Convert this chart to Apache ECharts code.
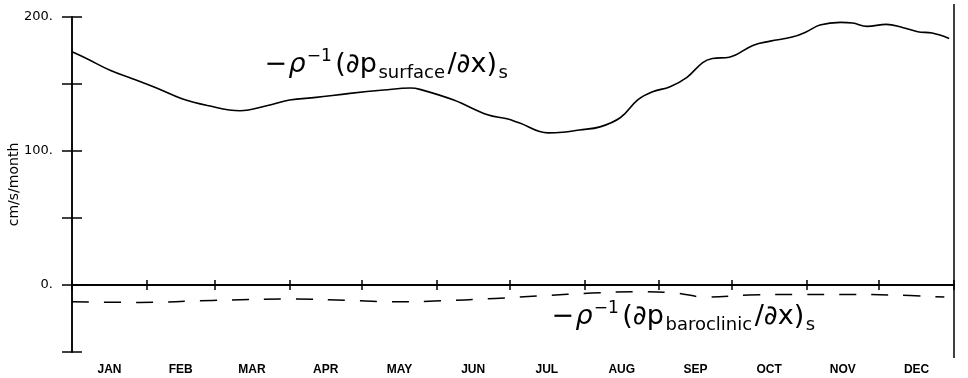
<!DOCTYPE html>
<html><head><meta charset="utf-8">
<script src="https://cdn.jsdelivr.net/npm/echarts@6/dist/echarts.min.js"></script>
<style>html,body{margin:0;padding:0;background:#fff}#c{width:968px;height:378px}</style>
</head><body><div id="c"></div>
<script>
const months = ['JAN','FEB','MAR','APR','MAY','JUN','JUL','AUG','SEP','OCT','NOV','DEC'];
const monthStartDays = [0,31,59,90,120,151,181,212,243,273,304,334,365];
const monthMidDays = [15.5,45,74.5,105,135.5,166,196.5,227.5,258,288.5,319,349.5];
const yLabelValues = [0,100,200];

const surfaceDays   = [0,6,16,25,35,45.5,56,69.5,81,90,101,115,129,140,144,158,172,180,185,197,203,210,218.5,227,234,240,247.5,254.5,261,265,272,282,289,298,304,309.5,318,323,329,337,344,350,356,363];
const surfaceValues = [174,169,160,154,147,139,134,130,134,138,140,143,145.5,147,146,138,127,124,121,113.5,114,115.7,118,125,138,144,148,155,166,169,170,179,182,185,189,194,196,195.5,193,194.5,192,189,188,184];

const baroDays   = [0,28,58,89,115,130,150,175,195,215,235,250,262,280,300,320,340,361];
const baroValues = [-12.5,-13,-11.5,-10.5,-11.5,-12.5,-12,-10,-8,-6,-5,-6,-9,-7.5,-7,-7,-7.5,-9];

const chart = echarts.init(document.getElementById('c'), null, {renderer:'canvas'});
const black = '#000';
const FF = 'DejaVu Sans';
const richStyles = {
  m:   {fontSize: 27, fontFamily: FF, lineHeight: 34, padding: [0, 1.5, 0, 1.5], fill: black},
  g:   {fontSize: 27, fontFamily: FF, fontStyle: 'italic', lineHeight: 34, fill: black},
  sup: {fontSize: 17, fontFamily: FF, lineHeight: 18, verticalAlign: 'top', padding: [0, 2, 0, 1], fill: black},
  sub: {fontSize: 18, fontFamily: FF, lineHeight: 20, verticalAlign: 'bottom', padding: [0, 1, 0, 0], fill: black}
};
const pair = (xs, ys) => xs.map((d, i) => [d, ys[i]]);

chart.setOption({
  animation: false,
  grid: {left: 72, right: 14, top: 17, bottom: 26, containLabel: false, outerBoundsMode: 'none'},
  xAxis: [{
    type: 'value', min: 0, max: 365, position: 'bottom',
    axisLine: {show: true, lineStyle: {color: black, width: 1.5}},
    axisTick: {show: true, inside: false, length: 5, customValues: monthStartDays, lineStyle: {color: black, width: 1.5}},
    axisLabel: {show: true, customValues: monthMidDays, margin: 12, color: black, fontSize: 12, fontWeight: 'bold', fontFamily: 'Liberation Sans',
      formatter: v => { let b = 0; monthMidDays.forEach((m, i) => { if (Math.abs(m - v) < Math.abs(monthMidDays[b] - v)) b = i; }); return months[b]; }},
    splitLine: {show: false}
  }, {
    type: 'value', min: 0, max: 365, position: 'top',
    axisLine: {show: true, lineStyle: {color: black, width: 1.5}},
    axisTick: {show: true, inside: false, length: 5, customValues: monthStartDays, lineStyle: {color: black, width: 1.5}},
    axisLabel: {show: false},
    splitLine: {show: false}
  }],
  yAxis: [{
    type: 'value', min: -50, max: 200, interval: 50, position: 'left',
    name: 'cm/s/month', nameLocation: 'middle', nameGap: 51, nameRotate: 90, nameMoveOverlap: false,
    nameTextStyle: {color: black, fontSize: 14, fontFamily: FF},
    axisLine: {show: true, lineStyle: {color: black, width: 1.5}},
    axisTick: {show: true, inside: false, length: 10, lineStyle: {color: black, width: 1.5}},
    axisLabel: {show: true, customValues: yLabelValues, margin: 19, color: black, fontSize: 13, fontFamily: FF, formatter: v => v + '.'},
    splitLine: {show: false}
  }, {
    type: 'value', min: -50, max: 200, interval: 50, position: 'right',
    axisLine: {show: true, lineStyle: {color: black, width: 1.5}},
    axisTick: {show: true, inside: false, length: 10, lineStyle: {color: black, width: 1.5}},
    axisLabel: {show: false},
    splitLine: {show: false}
  }],
  series: [{
    type: 'line', xAxisIndex: 0, yAxisIndex: 0, data: pair(surfaceDays, surfaceValues),
    smooth: 0.4, showSymbol: false, symbol: 'none',
    lineStyle: {color: black, width: 1.6},
    markLine: {silent: true, symbol: ['none','none'], label: {show: false},
      lineStyle: {color: black, width: 1.5, type: 'solid'}, data: [{yAxis: 0}]}
  }, {
    type: 'line', xAxisIndex: 0, yAxisIndex: 0, data: pair(baroDays, baroValues),
    smooth: 0.4, showSymbol: false, symbol: 'none',
    lineStyle: {color: black, width: 1.5, type: [17, 15]}
  }],
  graphic: [{
    type: 'text', left: 263, top: 48,
    style: {text: '{m|−}{g|ρ}{sup|−1}{m|(∂p}{sub|surface}{m|/∂x)}{sub|s}', rich: richStyles, fill: black}
  }, {
    type: 'text', left: 550, top: 300,
    style: {text: '{m|−}{g|ρ}{sup|−1}{m|(∂p}{sub|baroclinic}{m|/∂x)}{sub|s}', rich: richStyles, fill: black}
  }, {
    type: 'line', silent: true, shape: {x1: 954, y1: 4, x2: 954, y2: 358},
    style: {stroke: black, lineWidth: 1.5}
  }]
});
</script></body></html>
